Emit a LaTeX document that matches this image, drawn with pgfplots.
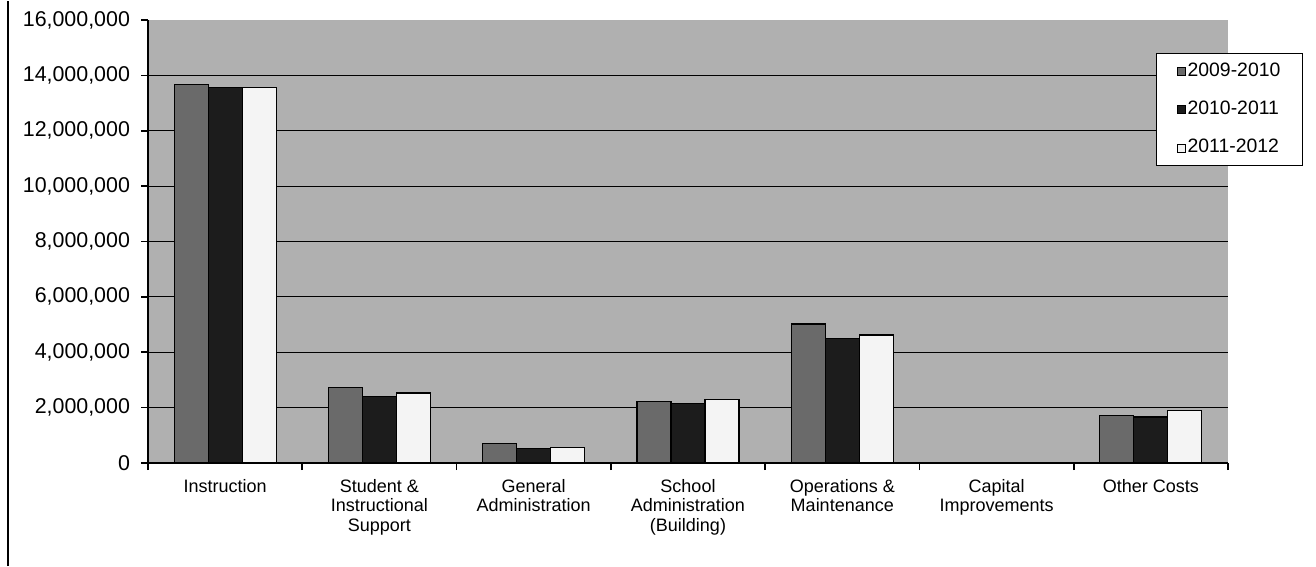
\documentclass[border=0pt]{standalone}
\usepackage{pgfplots}
\pgfplotsset{compat=1.18}
\usepackage{pgfplotstable}
\usepackage{fontspec}
\setmainfont{Liberation Sans}
\definecolor{bgc}{HTML}{B0B0B0}
\definecolor{sa}{HTML}{6A6A6A}
\definecolor{sb}{HTML}{1C1C1C}
\definecolor{sc}{HTML}{F4F4F4}
\pgfplotstableread{
x a b c
0 13680000 13560000 13560000
1 2740000 2390000 2530000
2 710000 510000 550000
3 2210000 2150000 2300000
4 5020000 4510000 4620000
5 30000 20000 25000
6 1720000 1660000 1890000
}\data
\begin{document}
\begin{tikzpicture}
\path (0,0) rectangle (658bp,282.5bp);
\draw[line width=1bp] (4bp,0) -- (4bp,282.5bp);
\begin{axis}[at={(74bp,51.5bp)}, anchor=south west, scale only axis,
  width=540bp, height=221.5bp,
  xmin=-0.5, xmax=6.5, ymin=0, ymax=16000000,
  ybar=0pt, bar width=17bp,
  axis x line*=bottom, axis y line*=left,
  axis line style={line width=0.8bp,-},
  axis background/.style={fill=bgc},
  xtick={-0.5,0.5,1.5,2.5,3.5,4.5,5.5,6.5},
  x tick label as interval,
  xticklabels={Instruction,{Student \&\\Instructional\\Support},{General\\Administration},{School\\Administration\\(Building)},{Operations \&\\Maintenance},{Capital\\Improvements},Other Costs},
  xticklabel style={align=center, font=\fontsize{9bp}{9.75bp}\selectfont, anchor=north, yshift=-1bp},
  ytick={0,2000000,4000000,6000000,8000000,10000000,12000000,14000000},
  extra y ticks={16000000}, extra y tick style={grid=none},
  scaled y ticks=false,
  yticklabel style={/pgf/number format/fixed, /pgf/number format/1000 sep={,}, /pgf/number format/assume math mode=true, font=\fontsize{10.7bp}{12bp}\selectfont, xshift=-2bp},
  tick align=outside, major tick length=3.5bp,
  tick style={black, line width=0.8bp},
  ymajorgrids, major grid style={black, line width=0.6bp},
  legend style={at={(1,1)}, anchor=north east, xshift=37.5bp, yshift=-16.5bp,
    draw=black, line width=0.6bp, fill=white, font=\fontsize{9.7bp}{10bp}\selectfont, row sep=8.2bp,
    inner xsep=10bp, inner ysep=3.3bp,
    nodes={text height=7bp, text depth=2bp, inner sep=1bp}},
  legend image code/.code={\draw[#1, line width=0.4bp] (0bp,-2bp) rectangle (4bp,2bp);},
  legend cell align=left,
]
\addplot[fill=sa, draw=black, line width=0.6bp] table[x=x, y=a] {\data};
\addplot[fill=sb, draw=black, line width=0.6bp] table[x=x, y=b] {\data};
\addplot[fill=sc, draw=black, line width=0.6bp] table[x=x, y=c] {\data};
\legend{2009-2010,2010-2011,2011-2012}
\end{axis}
\end{tikzpicture}
\end{document}
